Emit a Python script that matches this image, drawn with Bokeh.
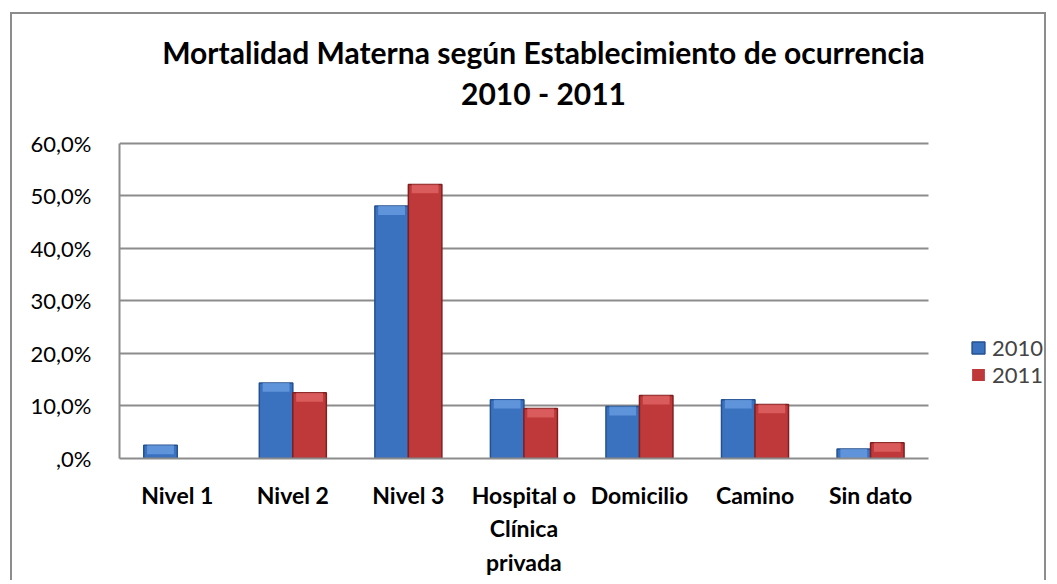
from bokeh.plotting import figure
from bokeh.models import (Range1d, ColumnDataSource, Label, Legend, LegendItem,
                          CustomJSTickFormatter, FixedTicker)
from bokeh.transform import dodge
from bokeh.embed import file_html
from bokeh.resources import INLINE
import numpy as np

# ---- data ----
categories = ["Nivel 1", "Nivel 2", "Nivel 3", "Hospital o Clínica privada",
              "Domicilio", "Camino", "Sin dato"]
category_labels = ["Nivel 1", "Nivel 2", "Nivel 3", "Hospital o\nClínica\nprivada",
                   "Domicilio", "Camino", "Sin dato"]
series = ["2010", "2011"]
vals_2010 = [2.5, 14.4, 48.1, 11.2, 9.9, 11.2, 1.8]
vals_2011 = [0.0, 12.5, 52.2, 9.5, 12.0, 10.3, 3.0]
y_ticks = [0, 10, 20, 30, 40, 50, 60]
title_lines = ["Mortalidad Materna según Establecimiento de ocurrencia", "2010 - 2011"]

FONT = "Lato"
GRID = "#8c8c8c"
blue, blue_dark, blue_light = "#3b72c0", "#24508f", "#6fa3e6"
red, red_dark, red_light = "#c0393a", "#7f1f20", "#e46a6a"

n = len(categories)
xpos = [i + 0.5 for i in range(n)]
bevel = 1.7
a2010 = np.array(vals_2010)
a2011 = np.array(vals_2011)
src = ColumnDataSource(dict(
    x=xpos, cat=categories,
    v2010=vals_2010, v2011=vals_2011,
    b2010=list(np.maximum(a2010 - bevel, 0)),
    b2011=list(np.maximum(a2011 - bevel, 0)),
    la2010=list((a2010 > 0).astype(float)),
    la2011=list((a2011 > 0).astype(float)),
))

# frame spans the whole upper area (title lives inside it); axis/grid limited to 0-60
p = figure(width=1036, height=568, x_range=Range1d(0, 8.04), y_range=Range1d(0, 84.57),
           output_backend="svg", toolbar_location=None,
           min_border_left=107, min_border_right=0, min_border_top=0, min_border_bottom=124)
p.margin = (12, 0, 0, 10)
p.styles = {"border-left": f"2px solid {GRID}", "border-top": f"2px solid {GRID}",
            "border-right": f"2px solid {GRID}"}
p.outline_line_color = None
p.background_fill_color = "white"
p.border_fill_color = "white"

bw = 0.29
off = bw / 2
r1 = p.vbar(x=dodge("x", -off), top="v2010", width=bw, source=src,
            fill_color=blue, line_color=blue_dark, line_width=1.5, line_alpha="la2010")
p.vbar(x=dodge("x", -off), top="v2010", bottom="b2010", width=bw * 0.8,
       source=src, fill_color=blue_light, fill_alpha=0.7, line_color=None)
r2 = p.vbar(x=dodge("x", off), top="v2011", width=bw, source=src,
            fill_color=red, line_color=red_dark, line_width=1.5, line_alpha="la2011")
p.vbar(x=dodge("x", off), top="v2011", bottom="b2011", width=bw * 0.8,
       source=src, fill_color=red_light, fill_alpha=0.7, line_color=None)

# y axis
p.yaxis.ticker = FixedTicker(ticks=y_ticks)
p.yaxis.bounds = (y_ticks[0], y_ticks[-1])
p.yaxis.formatter = CustomJSTickFormatter(
    code="return tick == 0 ? ',0%' : tick.toFixed(1).replace('.', ',') + '%';")
p.yaxis.major_label_text_font = FONT
p.yaxis.major_label_text_font_size = "22px"
p.yaxis.major_label_text_color = "black"
p.yaxis.major_label_standoff = 22
p.yaxis.major_tick_line_color = None
p.yaxis.minor_tick_line_color = None
p.yaxis.axis_line_color = GRID
p.yaxis.axis_line_width = 2

# x axis (categories)
p.xaxis.ticker = FixedTicker(ticks=xpos)
p.xaxis.major_label_overrides = {x: lab for x, lab in zip(xpos, category_labels)}
p.xaxis.bounds = (0, n)
p.xaxis.major_label_text_font = FONT
p.xaxis.major_label_text_font_size = "23px"
p.xaxis.major_label_text_font_style = "bold"
p.xaxis.major_label_text_color = "black"
p.xaxis.major_label_standoff = 22
p.xaxis.major_tick_line_color = None
p.xaxis.major_tick_out = 0
p.xaxis.minor_tick_line_color = None
p.xaxis.axis_line_color = GRID
p.xaxis.axis_line_width = 2

p.ygrid.ticker = FixedTicker(ticks=y_ticks)
p.ygrid.grid_line_color = GRID
p.ygrid.grid_line_width = 2
p.ygrid.cross_bounds = (0, n)
p.xgrid.grid_line_color = None

# title: two centred lines (screen units relative to the frame's bottom-left corner)
for t, ty in zip(title_lines, [407, 366]):
    p.add_layout(Label(x=424, y=ty, x_units="screen", y_units="screen", text=t,
                       text_align="center", text_baseline="middle", text_font=FONT,
                       text_font_size="30px", text_font_style="bold", text_color="black"))

legend = Legend(items=[LegendItem(label=series[0], renderers=[r1]),
                       LegendItem(label=series[1], renderers=[r2])],
                location=(851, 70), border_line_color=None, background_fill_alpha=0,
                padding=0, margin=0, glyph_width=16, glyph_height=15,
                label_text_font=FONT, label_text_font_size="22px", label_standoff=6, spacing=0)
p.add_layout(legend)

open("out.html", "w").write(file_html(p, INLINE))
